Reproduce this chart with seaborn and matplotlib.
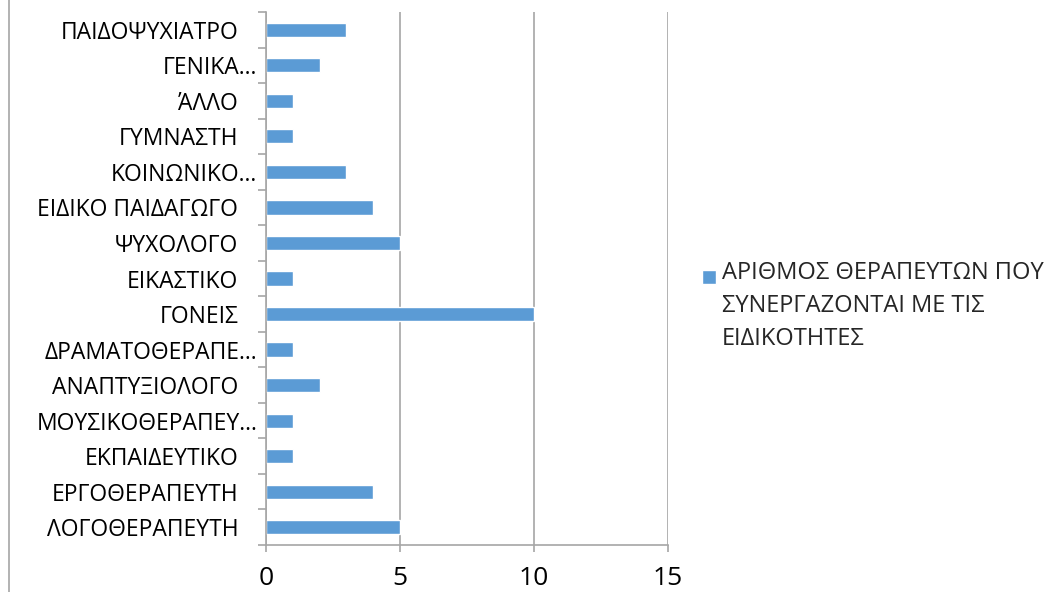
import seaborn as sns
import matplotlib.pyplot as plt
import numpy as np
from matplotlib.lines import Line2D
from matplotlib.patches import Rectangle
from matplotlib.container import BarContainer
from matplotlib.legend_handler import HandlerPatch, update_from_first_child
from matplotlib.offsetbox import HPacker
from matplotlib.transforms import ScaledTranslation

# datos (de arriba hacia abajo)
categorias = ["ΠΑΙΔΟΨΥΧΙΑΤΡΟ", "ΓΕΝΙΚΑ…", "ΆΛΛΟ", "ΓΥΜΝΑΣΤΗ", "ΚΟΙΝΩΝΙΚΟ…",
              "ΕΙΔΙΚΟ ΠΑΙΔΑΓΩΓΟ", "ΨΥΧΟΛΟΓΟ", "ΕΙΚΑΣΤΙΚΟ", "ΓΟΝΕΙΣ",
              "ΔΡΑΜΑΤΟΘΕΡΑΠΕ…", "ΑΝΑΠΤΥΞΙΟΛΟΓΟ", "ΜΟΥΣΙΚΟΘΕΡΑΠΕΥ…",
              "ΕΚΠΑΙΔΕΥΤΙΚΟ", "ΕΡΓΟΘΕΡΑΠΕΥΤΗ", "ΛΟΓΟΘΕΡΑΠΕΥΤΗ"]
valores = [3, 2, 1, 1, 3, 4, 5, 1, 10, 1, 2, 1, 1, 4, 5]
serie = "ΑΡΙΘΜΟΣ ΘΕΡΑΠΕΥΤΩΝ ΠΟΥ\nΣΥΝΕΡΓΑΖΟΝΤΑΙ ΜΕ ΤΙΣ\nΕΙΔΙΚΟΤΗΤΕΣ"
xticks = [0, 5, 10, 15]

sns.set_style("white")
plt.rcParams['font.family'] = ['Open Sans', 'DejaVu Sans']

fig = plt.figure(figsize=(10.5, 5.92), dpi=100)
ax = fig.add_axes([0.2533, 0.0794, 0.6362 - 0.2533, 0.9797 - 0.0794])

sns.barplot(x=valores, y=categorias, color="#5B9BD5", width=0.4,
            saturation=1, label=serie, ax=ax)

gris = "#A6A6A6"
ax.set_xlim(0, 15)
ax.set_ylim(len(categorias) - 0.5, -0.5)
ax.set_xticks(xticks)
ax.set_xticklabels([str(t) for t in xticks], fontsize=19, color="black")
ax.tick_params(axis="x", direction="out", length=5, color=gris, width=1.2, pad=10, bottom=True)
ax.tick_params(axis="y", which="major", length=0, pad=20, labelsize=16.5, labelcolor="black")
ax.set_yticks(np.arange(-0.5, len(categorias), 1), minor=True)
ax.tick_params(axis="y", which="minor", direction="out", length=6, color=gris, width=1.2, left=True)
ax.grid(axis="x", color=gris, linewidth=1.2)
ax.set_axisbelow(True)
for lado in ["top", "right"]:
    ax.spines[lado].set_visible(False)
for lado in ["left", "bottom"]:
    ax.spines[lado].set_color(gris)
    ax.spines[lado].set_linewidth(1.2)
ax.set_xlabel("")
ax.set_ylabel("")

# las etiquetas recortadas llegan más cerca del eje
desplaza = ScaledTranslation(19 / 100, 0, fig.dpi_scale_trans)
for etiqueta in ax.get_yticklabels():
    if etiqueta.get_text().endswith("…"):
        etiqueta.set_transform(etiqueta.get_transform() + desplaza)


# cuadrado de la leyenda a la altura de la primera línea
def cuadrado(legend, orig_handle, xdescent, ydescent, width, height, fontsize):
    lado = 10
    return Rectangle((-xdescent, -ydescent + height - lado - 6.3), lado, lado)


leg = ax.legend(loc="upper left", bbox_to_anchor=(702 / 1050, 1 - 261 / 592),
                bbox_transform=fig.transFigure, frameon=False, fontsize=17,
                handlelength=0.6, handleheight=1.2, handletextpad=0.25, borderpad=0,
                borderaxespad=0,
                handler_map={BarContainer: HandlerPatch(patch_func=cuadrado,
                                                        update_func=update_from_first_child)})
for t in leg.get_texts():
    t.set_linespacing(1.5)
for caja in leg.findobj(HPacker):
    caja.align = "top"

# borde izquierdo del gráfico
fig.add_artist(Line2D([9 / 1050, 9 / 1050], [0, 1], transform=fig.transFigure,
                      color=gris, linewidth=1.2))

fig.savefig("out.png", dpi=100)
